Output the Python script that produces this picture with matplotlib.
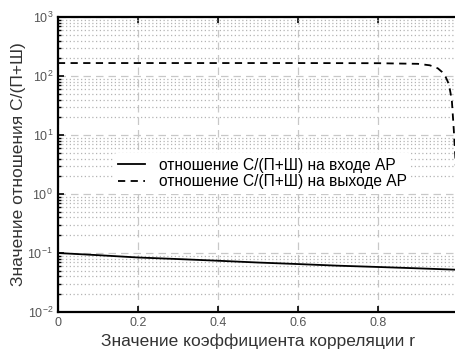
import numpy as np
import matplotlib
matplotlib.use("Agg")
import matplotlib.pyplot as plt
from matplotlib.ticker import LogLocator, NullFormatter

plt.rcParams['font.family'] = ['Liberation Sans', 'DejaVu Sans']

# входное отношение С/(П+Ш)
r_in = [0.0, 0.1, 0.2, 0.3, 0.4, 0.5, 0.6, 0.7, 0.8, 0.9, 1.0]
snr_in = [0.1, 0.092, 0.084, 0.079, 0.074, 0.069, 0.065, 0.061, 0.058, 0.055, 0.052]

# выходное отношение С/(П+Ш)
r_out = [0.0, 0.2, 0.4, 0.6, 0.8, 0.9, 0.93, 0.95, 0.96, 0.97, 0.975, 0.98, 0.985, 0.99, 0.995]
snr_out = [166, 166, 166, 166, 165, 161, 152, 135, 118, 95, 80, 60, 39, 12, 3]

labels = ["отношение С/(П+Ш) на входе АР", "отношение С/(П+Ш) на выходе АР"]

fig = plt.figure(figsize=(4.56, 3.52), dpi=100)
ax = fig.add_axes([0.127, 0.1136, 0.877, 0.838])

ax.semilogy(r_in, snr_in, color='black', lw=1.3, label=labels[0])
ax.semilogy(r_out, snr_out, color='black', lw=1.3, ls=(0, (4, 3)), label=labels[1])

ax.set_xlim(0, 1)
ax.set_ylim(1e-2, 1e3)
ax.set_xticks([0, 0.2, 0.4, 0.6, 0.8])
ax.set_xticklabels(['0', '0.2', '0.4', '0.6', '0.8'])
ax.yaxis.set_major_locator(LogLocator(base=10, numticks=10))
ax.yaxis.set_minor_locator(LogLocator(base=10, subs=np.arange(2, 10), numticks=20))
ax.yaxis.set_minor_formatter(NullFormatter())

ax.grid(True, which='major', color='#c8c8c8', ls=(0, (6, 4)), lw=0.9)
ax.grid(True, which='minor', axis='y', color='#b4b4b4', ls=(0, (1, 2)), lw=0.9)
ax.set_axisbelow(True)

ax.tick_params(which='both', direction='in', top=True, right=False, colors='black',
               labelcolor='#555555', labelsize=9)
ax.tick_params(which='major', length=4, width=1.2)
ax.tick_params(which='minor', length=2.5, width=1)
for s in ax.spines.values():
    s.set_linewidth(1.6)
ax.spines['right'].set_visible(False)

ax.set_xlabel("Значение коэффициента корреляции r", fontsize=12.5, color='#333333', labelpad=3)
ax.set_ylabel("Значение отношения С/(П+Ш)", fontsize=12.5, color='#333333', labelpad=1)

leg = ax.legend(loc='upper left', bbox_to_anchor=(0.12, 0.565), frameon=True, fontsize=11.2,
                handlelength=1.7, handletextpad=0.9, borderpad=0.3, labelspacing=0.1)
leg.get_frame().set_edgecolor('none')
leg.get_frame().set_facecolor('white')
leg.get_frame().set_alpha(1)

fig.savefig("out.png", dpi=100)
